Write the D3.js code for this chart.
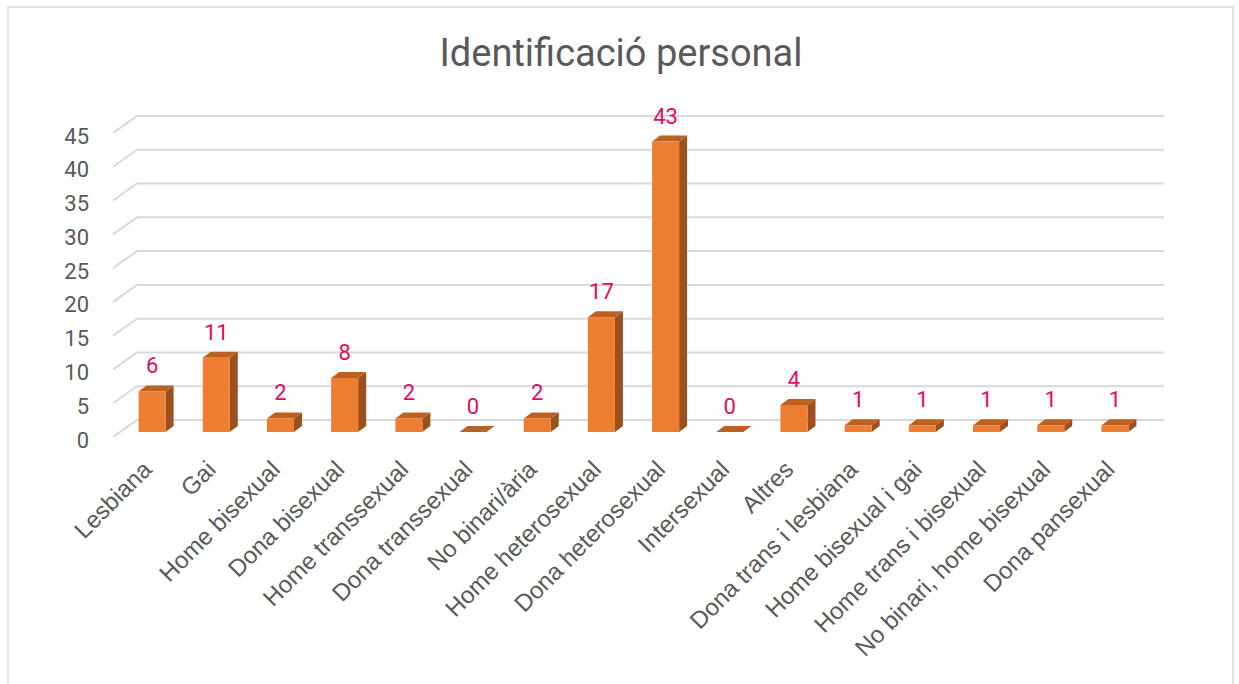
<!DOCTYPE html>
<html>
<head>
<meta charset="utf-8">
<script src="https://cdn.jsdelivr.net/npm/d3@7"></script>
<style>
  body { margin: 0; background: #fff; }
  svg { display: block; font-family: Roboto, "Noto Sans", sans-serif; }
</style>
</head>
<body>
<svg id="chart" width="1239" height="684"></svg>
<script>
// chart data
const categories = ['Lesbiana', 'Gai', 'Home bisexual', 'Dona bisexual', 'Home transsexual',
  'Dona transsexual', 'No binari/ària', 'Home heterosexual', 'Dona heterosexual', 'Intersexual',
  'Altres', 'Dona trans i lesbiana', 'Home bisexual i gai', 'Home trans i bisexual',
  'No binari, home bisexual', 'Dona pansexual'];
const counts = [6, 11, 2, 8, 2, 0, 2, 17, 43, 0, 4, 1, 1, 1, 1, 1];
const yTicks = [0, 5, 10, 15, 20, 25, 30, 35, 40, 45];
const title = 'Identificació personal';

const svg = d3.select('#chart');

// outer frame
svg.append('rect')
  .attr('x', 8).attr('y', 7)
  .attr('width', 1225).attr('height', 700)
  .attr('fill', 'none')
  .attr('stroke', '#d9d9d9')
  .attr('stroke-width', 1.5);

svg.append('text')
  .attr('x', 621).attr('y', 66)
  .attr('text-anchor', 'middle')
  .style('font-size', '38px')
  .style('fill', '#595959')
  .text(title);

// back wall coordinates
const x = d3.scaleBand().domain(categories).range([137, 1164]);
const y = d3.scaleLinear().domain([0, 45]).range([420, 116]);

// floor depth offset (back -> front) and bar geometry
const floorDx = -24, floorDy = 17;
const barDx = -17, barDy = 12;   // front face of bars relative to back wall
const depthDx = 8, depthDy = -6; // bar depth
const barW = 27;

// gridlines: slanted floor part + back wall line
const grid = svg.append('g');
yTicks.forEach(t => {
  grid.append('path')
    .attr('d', `M${137 + floorDx},${y(t) + floorDy}L137,${y(t)}L1164,${y(t)}`)
    .attr('fill', 'none')
    .attr('stroke', '#d9d9d9')
    .attr('stroke-width', 2);
});

// y tick labels
svg.append('g').selectAll('text')
  .data(yTicks)
  .join('text')
  .attr('x', 89)
  .attr('y', d => y(d) + floorDy + 3)
  .attr('text-anchor', 'end')
  .attr('dominant-baseline', 'central')
  .style('font-size', '22px')
  .style('fill', '#595959')
  .text(d => d);

// bars
const bars = svg.append('g').selectAll('g')
  .data(categories.map((c, i) => ({ c: c, v: counts[i] })))
  .join('g');

function fx(d) { return x(d.c) + x.bandwidth() / 2 + barDx - barW / 2; }
function fyTop(d) { return y(d.v) + barDy; }
const fyBase = y(0) + barDy;

// side face
bars.append('path')
  .attr('d', d => {
    const x1 = fx(d) + barW, t = fyTop(d);
    return `M${x1},${fyBase}L${x1 + depthDx},${fyBase + depthDy}L${x1 + depthDx},${t + depthDy}L${x1},${t}Z`;
  })
  .attr('fill', '#9b501d');

// top face
bars.append('path')
  .attr('d', d => {
    const x0 = fx(d), t = fyTop(d);
    return `M${x0},${t}L${x0 + depthDx},${t + depthDy}L${x0 + barW + depthDx},${t + depthDy}L${x0 + barW},${t}Z`;
  })
  .attr('fill', '#bd6120');

// front face
bars.append('rect')
  .attr('x', d => fx(d))
  .attr('y', d => fyTop(d))
  .attr('width', barW)
  .attr('height', d => fyBase - fyTop(d))
  .attr('fill', '#ed7d31');

// value labels
bars.append('text')
  .attr('x', d => fx(d) + barW / 2)
  .attr('y', d => fyTop(d) - 18)
  .attr('text-anchor', 'middle')
  .style('font-size', '22px')
  .style('fill', '#e6095c')
  .text(d => d.v);

// category labels
svg.append('g').selectAll('text')
  .data(categories)
  .join('text')
  .attr('transform', d => `translate(${x(d) + x.bandwidth() / 2 + barDx + 1},471) rotate(-45)`)
  .attr('text-anchor', 'end')
  .style('font-family', '"Liberation Sans", Arial, sans-serif')
  .style('font-size', '24px')
  .style('fill', '#595959')
  .text(d => d);
</script>
</body>
</html>
